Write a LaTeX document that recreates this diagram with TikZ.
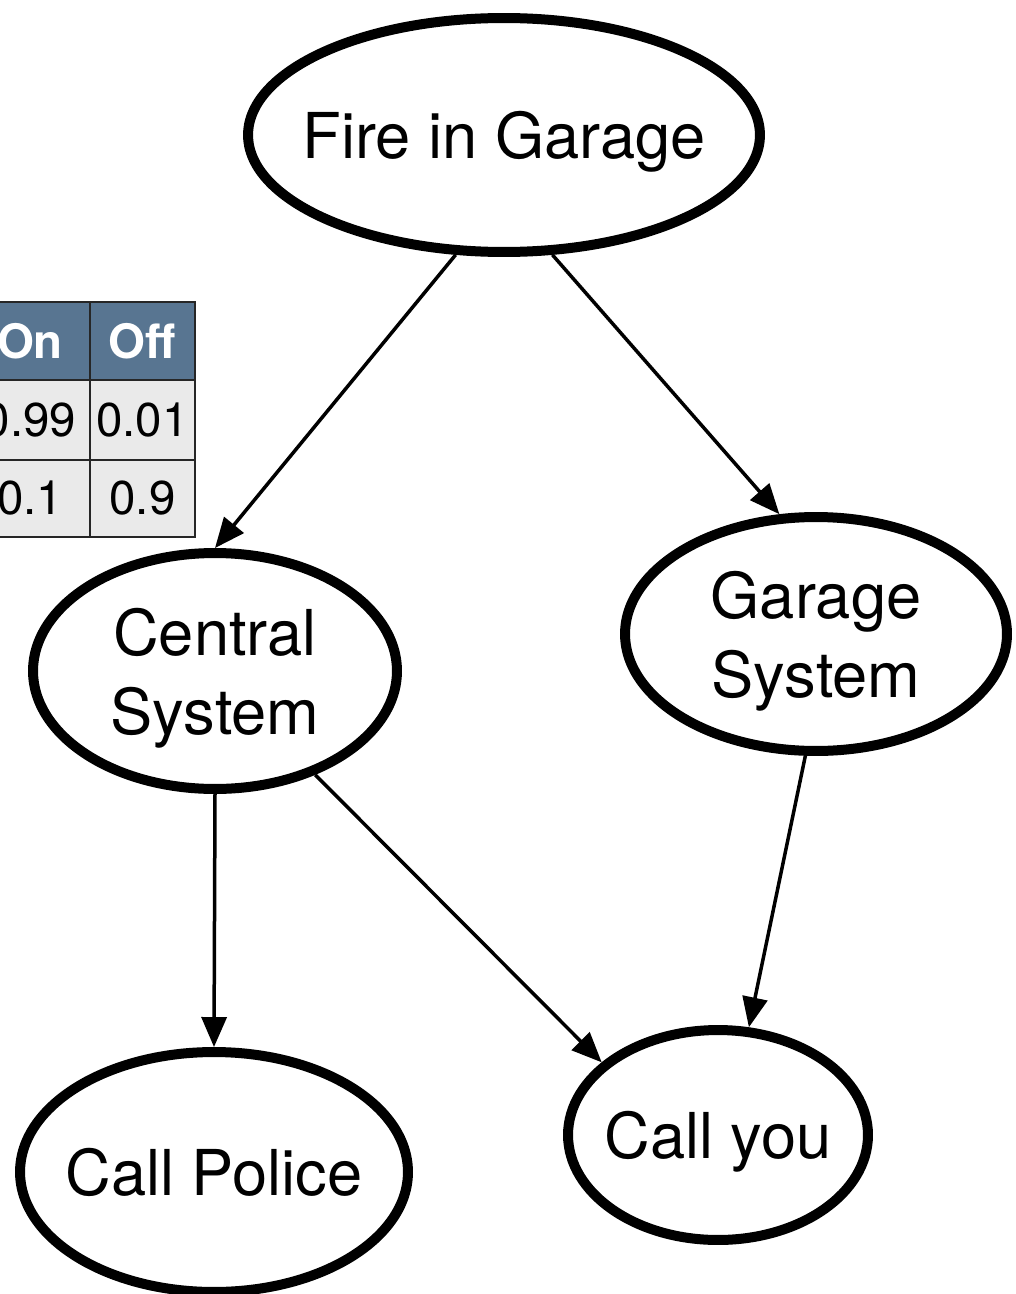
\documentclass[tikz,border=0pt]{standalone}
\usepackage{fontspec}
\setmainfont{TeX Gyre Heros}
\usetikzlibrary{shapes.geometric, arrows.meta}

\definecolor{headblue}{HTML}{587591}
\definecolor{cellgray}{HTML}{EAEAEA}

\tikzset{
	var/.style = {ellipse, draw, line width=0.2cm, inner sep=-1cm, align=center,
		text depth=0pt, font=\fontsize{36}{45}\selectfont},
	link/.style = {line width=0.07cm, -{Triangle[length=0.6cm, width=0.5cm]}},
	cell/.style = {draw=black!85, line width=0.04cm, anchor=north west, outer sep=0pt,
		inner sep=0pt, font=\fontsize{27}{30}\selectfont},
	headcell/.style = {cell, fill=headblue, text=white, font=\bfseries\fontsize{27}{30}\selectfont},
	valcell/.style = {cell, fill=cellgray}
}

\begin{document}
\begin{tikzpicture}[x=0.02cm, y=-0.02cm]
	\useasboundingbox (0,0) rectangle (1015,1294);

	% the network
	\node [var, minimum width=10.24cm, minimum height=4.68cm] (fire) at (504,135) {Fire in Garage};
	\node [var, minimum width=7.28cm, minimum height=4.72cm] (central) at (215,671) {Central\\System};
	\node [var, minimum width=7.64cm, minimum height=4.68cm] (garage) at (816,634) {Garage\\System};
	\node [var, minimum width=7.76cm, minimum height=4.8cm] (police) at (214,1172) {Call Police};
	\node [var, minimum width=6cm, minimum height=4.2cm] (callyou) at (718,1135) {Call you};

	\draw [link] (fire.248) -- (central.90);
	\draw [link] (fire.292) -- (garage.107);
	\draw [link] (central.south) -- (police.north);
	\draw [link] (central.314) -- (callyou.148);
	\draw [link] (garage.265) -- (callyou.74);

	% table for the central system
	\node [headcell, minimum width=2.4cm, minimum height=1.56cm] (hon) at (-30,302) {On};
	\node [headcell, minimum width=2.1cm, minimum height=1.56cm] (hoff) at (hon.north east) {Off};
	\node [valcell, minimum width=2.4cm, minimum height=1.6cm] (on1) at (hon.south west) {0.99};
	\node [valcell, minimum width=2.1cm, minimum height=1.6cm] (off1) at (on1.north east) {0.01};
	\node [valcell, minimum width=2.4cm, minimum height=1.54cm] (on2) at (on1.south west) {0.1};
	\node [valcell, minimum width=2.1cm, minimum height=1.54cm] (off2) at (on2.north east) {0.9};
\end{tikzpicture}
\end{document}
